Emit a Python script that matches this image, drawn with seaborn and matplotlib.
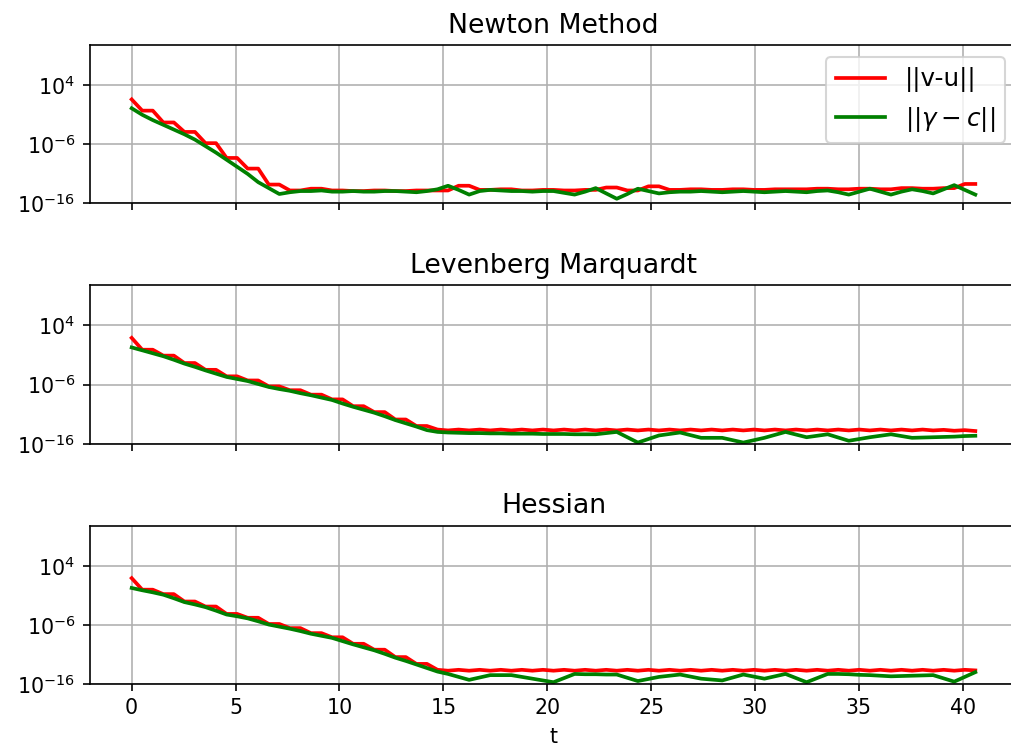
import numpy as np
import matplotlib
matplotlib.use("Agg")
import matplotlib.pyplot as plt
import seaborn as sns
from matplotlib.ticker import NullLocator

# sample times of the iteration history
T_END = 40.6
N_SAMPLES = 81
t = np.linspace(0.0, T_END, N_SAMPLES)

# log10 of the residual norms, one list per method and quantity
newton_vu = [1.6, -0.3, -0.3, -2.3, -2.3, -3.9, -3.9, -5.8, -5.8, -8.3, -8.3,
             -10.1, -10.1, -12.8, -12.8, -13.8, -13.8, -13.5, -13.5, -13.8, -13.8,
             -13.9, -13.9, -13.8, -13.8, -13.9, -13.9, -13.8, -13.8, -13.8, -13.8,
             -13.0, -13.0, -13.7, -13.7, -13.6, -13.6, -13.8, -13.8, -13.7, -13.7,
             -13.8, -13.8, -13.7, -13.7, -13.3, -13.3, -13.8, -13.8, -13.1, -13.1,
             -13.7, -13.7, -13.6, -13.6, -13.7, -13.7, -13.6, -13.6, -13.7, -13.7,
             -13.6, -13.6, -13.6, -13.6, -13.5, -13.5, -13.6, -13.6, -13.5, -13.5,
             -13.6, -13.6, -13.4, -13.4, -13.5, -13.5, -13.4, -13.4, -12.7, -12.7]
newton_gc = [0.1, -1.0, -1.9, -2.7, -3.5, -4.3, -5.2, -6.3, -7.4, -8.6, -9.8,
             -11.0, -12.4, -13.4, -14.4, -14.1, -13.9, -13.9, -13.8, -14.0, -14.0,
             -13.9, -14.0, -14.0, -13.9, -13.9, -14.0, -14.1, -13.9, -13.6, -13.0,
             -13.7, -14.5, -13.9, -13.7, -13.8, -13.9, -13.9, -14.0, -13.9, -13.9,
             -14.2, -14.5, -14.0, -13.4, -14.3, -15.2, -14.4, -13.5, -13.9, -14.3,
             -14.1, -14.0, -14.0, -13.9, -14.0, -14.1, -14.0, -13.9, -14.0, -14.1,
             -14.0, -13.9, -14.0, -14.1, -13.9, -13.8, -14.1, -14.5, -14.0, -13.5,
             -14.0, -14.5, -14.0, -13.6, -13.9, -14.3, -13.6, -12.9, -13.7, -14.5]

lm_vu = [1.9, -0.1, -0.1, -1.1, -1.1, -2.35, -2.35, -3.5, -3.5, -4.6, -4.6,
         -5.3, -5.3, -6.3, -6.3, -6.95, -6.95, -7.7, -7.7, -8.5, -8.5,
         -9.65, -9.65, -10.65, -10.65, -11.9, -11.9, -13.0, -13.0, -13.6, -13.75,
         -13.6, -13.75, -13.6, -13.75, -13.6, -13.75, -13.6, -13.75, -13.6, -13.75,
         -13.6, -13.75, -13.6, -13.75, -13.6, -13.75, -13.6, -13.75, -13.6, -13.75,
         -13.6, -13.75, -13.6, -13.75, -13.6, -13.75, -13.6, -13.75, -13.6, -13.75,
         -13.6, -13.75, -13.6, -13.75, -13.6, -13.75, -13.6, -13.75, -13.6, -13.75,
         -13.6, -13.75, -13.6, -13.75, -13.6, -13.75, -13.65, -13.8, -13.7, -13.85]
lm_gc = [0.29, -0.2, -0.7, -1.2, -1.8, -2.45, -3.0, -3.6, -4.15, -4.7, -5.05,
         -5.4, -5.9, -6.4, -6.75, -7.05, -7.45, -7.8, -8.2, -8.6, -9.2,
         -9.75, -10.25, -10.75, -11.35, -12.0, -12.55, -13.1, -13.7, -14.0, -14.1,
         -14.15, -14.2, -14.2, -14.25, -14.25, -14.3, -14.3, -14.3, -14.35, -14.35,
         -14.35, -14.4, -14.4, -14.4, -14.2, -14.0, -14.9, -15.8, -15.2, -14.6,
         -14.35, -14.1, -14.55, -15.0, -15.0, -15.0, -15.4, -15.8, -15.4, -15.0,
         -14.5, -14.0, -14.45, -14.9, -14.65, -14.4, -14.95, -15.5, -15.2, -14.9,
         -14.65, -14.4, -14.7, -15.0, -14.95, -14.9, -14.85, -14.8, -14.7, -14.65]

hessian_vu = [1.9, -0.05, -0.05, -0.8, -0.8, -2.05, -2.05, -2.9, -2.9, -4.15, -4.15,
              -4.8, -4.8, -5.85, -5.85, -6.55, -6.55, -7.4, -7.4, -8.1, -8.1,
              -9.2, -9.2, -10.2, -10.2, -11.45, -11.45, -12.6, -12.6, -13.6, -13.75,
              -13.6, -13.75, -13.6, -13.75, -13.6, -13.75, -13.6, -13.75, -13.6, -13.75,
              -13.6, -13.75, -13.6, -13.75, -13.6, -13.75, -13.6, -13.75, -13.6, -13.75,
              -13.6, -13.75, -13.6, -13.75, -13.6, -13.75, -13.6, -13.75, -13.6, -13.75,
              -13.6, -13.75, -13.6, -13.75, -13.6, -13.75, -13.6, -13.75, -13.6, -13.75,
              -13.6, -13.75, -13.6, -13.75, -13.6, -13.75, -13.6, -13.75, -13.6, -13.7]
hessian_gc = [0.24, -0.15, -0.5, -0.9, -1.5, -2.15, -2.55, -3.0, -3.6, -4.25, -4.55,
              -4.9, -5.4, -5.95, -6.3, -6.65, -7.05, -7.5, -7.85, -8.2, -8.75,
              -9.3, -9.8, -10.3, -10.9, -11.55, -12.1, -12.7, -13.3, -13.9, -14.3,
              -14.8, -15.3, -14.9, -14.5, -14.5, -14.5, -14.8, -15.1, -15.4, -15.7,
              -15.0, -14.3, -14.35, -14.35, -14.4, -14.4, -14.95, -15.5, -15.15, -14.8,
              -14.6, -14.4, -14.75, -15.1, -15.25, -15.4, -14.9, -14.4, -14.75, -15.1,
              -14.7, -14.3, -15.0, -15.7, -15.0, -14.3, -14.3, -14.35, -14.45, -14.5,
              -14.6, -14.7, -14.65, -14.6, -14.55, -14.5, -15.05, -15.6, -14.8, -14.0]

titles = ["Newton Method", "Levenberg Marquardt", "Hessian"]
series_vu = [newton_vu, lm_vu, hessian_vu]
series_gc = [newton_gc, lm_gc, hessian_gc]
label_vu = "||v-u||"
label_gc = r"$||\gamma - c||$"
y_ticks = [1e-16, 1e-6, 1e4]
x_label = "t"

DPI = 148
fig, axes = plt.subplots(3, 1, figsize=(1011 / DPI, 755 / DPI), dpi=DPI, sharex=True)
fig.subplots_adjust(left=89.5 / 1011, right=1017.5 / 1011,
                    top=1 - 45 / 755, bottom=71 / 755, hspace=0.516)

for i, (ax, title, vu, gc) in enumerate(zip(axes, titles, series_vu, series_gc)):
    ax.set_yscale("log")
    sns.lineplot(x=t, y=10.0 ** np.asarray(vu), color="red", linewidth=1.8,
                 label=label_vu, ax=ax)
    sns.lineplot(x=t, y=10.0 ** np.asarray(gc), color="green", linewidth=1.8,
                 label=label_gc, ax=ax)
    ax.set_ylim(1e-16, 10 ** 10.8)
    ax.set_yticks(y_ticks)
    ax.yaxis.set_minor_locator(NullLocator())
    ax.grid(True)
    ax.set_axisbelow(True)
    ax.spines["right"].set_visible(False)
    ax.set_title(title, fontsize=13)
    ax.set_ylabel("")
    if i == 0:
        ax.legend(loc="upper right", fontsize=12)
    else:
        leg = ax.get_legend()
        if leg is not None:
            leg.remove()

axes[-1].set_xlabel(x_label)

fig.savefig("out.png", dpi=DPI)
